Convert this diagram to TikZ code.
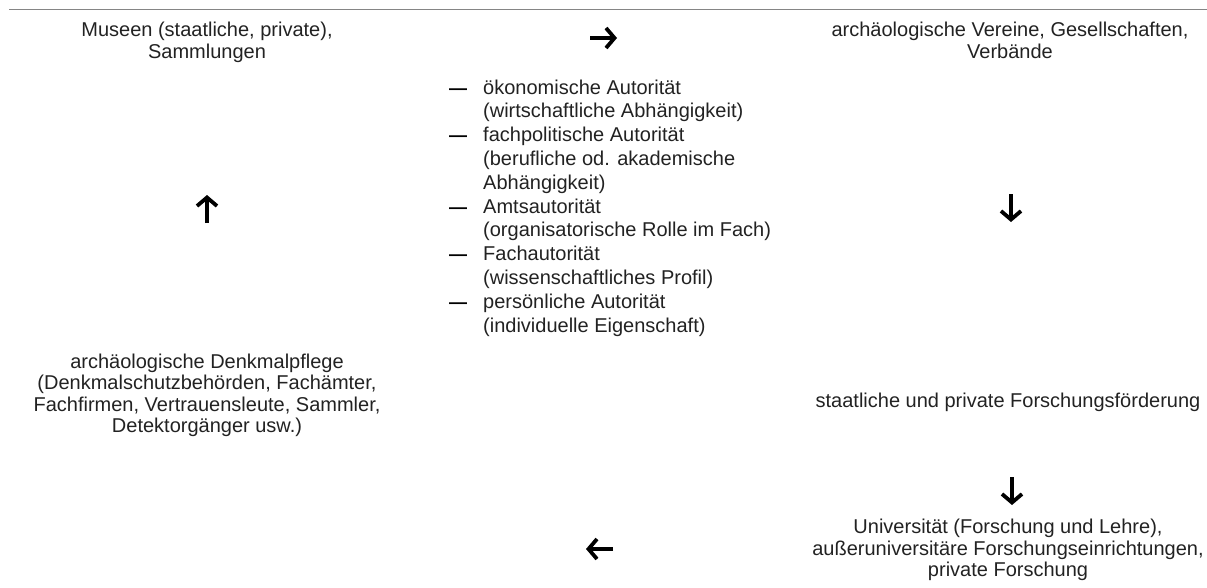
\documentclass[tikz,border=0pt]{standalone}
\usepackage{fontspec}
\setmainfont{Liberation Sans}
\usetikzlibrary{arrows.meta}
\definecolor{txt}{HTML}{222222}
\definecolor{rulec}{HTML}{858585}
\begin{document}
\begin{tikzpicture}[x=1pt,y=-1pt,
  lbl/.style={anchor=base, inner sep=0pt, text=txt, font=\fontsize{20}{22}\selectfont},
  lft/.style={lbl, anchor=base west},
  dashmark/.style={anchor=base west, inner sep=0pt, text=black, font=\fontsize{18}{22}\selectfont\bfseries},
  garrow/.style={line width=3.8pt, black, -{Straight Barb[length=8.5pt,width=20pt]}},
]
\useasboundingbox (0,0) rectangle (1207,587);
% top rule
\coordinate (r1) at (9,9.5);
\coordinate (r2) at (1207,9.5);
\draw[rulec, line width=1.3pt] (r1) -- (r2);
% top left cell
\node[lbl] (m1) at (207,36) {Museen (staatliche, private),};
\node[lbl] (m2) at (207,58) {Sammlungen};
% top right cell
\node[lbl] (v1) at (1010,36) {archäologische Vereine, Gesellschaften,};
\node[lbl] (v2) at (1010,58) {Verbände};
% middle list
\foreach \y/\d/\t [count=\i] in {
  94/1/{ökonomische Autorität},
  117.8/0/{(wirtschaftliche Abhängigkeit)},
  141.6/1/{fachpolitische Autorität},
  165.4/0/{(berufliche od. akademische},
  189.2/0/{Abhängigkeit)},
  213/1/{Amtsautorität},
  236.8/0/{(organisatorische Rolle im Fach)},
  260.6/1/{Fachautorität},
  284.4/0/{(wissenschaftliches Profil)},
  308.2/1/{persönliche Autorität},
  332/0/{(individuelle Eigenschaft)}}{
  \node[lft] (l\i) at (483,\y) {\t};
  \ifnum\d=1 \node[dashmark] (d\i) at (449,\y) {—};\fi
}
% bottom left cell
\node[lbl] (a1) at (207,368) {archäologische Denkmalpflege};
\node[lbl] (a2) at (207,389.5) {(Denkmalschutzbehörden, Fachämter,};
\node[lbl] (a3) at (207,411) {Fachfirmen, Vertrauensleute, Sammler,};
\node[lbl] (a4) at (207,432.5) {Detektorgänger usw.)};
% right middle
\node[lbl] (f1) at (1008,407) {staatliche und private Forschungsförderung};
% bottom right
\node[lbl] (u1) at (1008,533.5) {Universität (Forschung und Lehre),};
\node[lbl] (u2) at (1008,555) {außeruniversitäre Forschungseinrichtungen,};
\node[lbl] (u3) at (1008,576.5) {private Forschung};
% arrows
\coordinate (t1) at (590,38); \coordinate (t2) at (617,38);
\draw[garrow] (t1) -- (t2);
\coordinate (up1) at (207,223); \coordinate (up2) at (207,195);
\draw[garrow] (up1) -- (up2);
\coordinate (dn1) at (1011,194); \coordinate (dn2) at (1011,222);
\draw[garrow] (dn1) -- (dn2);
\coordinate (dd1) at (1012,477); \coordinate (dd2) at (1012,505);
\draw[garrow] (dd1) -- (dd2);
\coordinate (lf1) at (613,549); \coordinate (lf2) at (586,549);
\draw[garrow] (lf1) -- (lf2);
\end{tikzpicture}
\end{document}
